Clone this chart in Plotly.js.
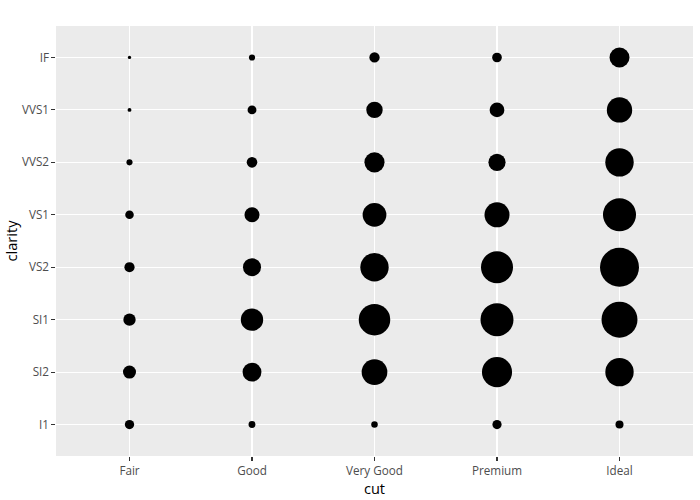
<!DOCTYPE html>
<html>
<head>
<meta charset="utf-8">
<script src="https://cdn.plot.ly/plotly-3.0.1.min.js"></script>
<style>html,body{margin:0;padding:0;background:#fff;}#chart{width:700px;height:500px;}</style>
</head>
<body>
<div id="chart"></div>
<script>
const cuts = ["Fair", "Good", "Very Good", "Premium", "Ideal"];
const clarities = ["I1", "SI2", "SI1", "VS2", "VS1", "VVS2", "VVS1", "IF"];
// counts per cut (rows) in clarity order above
const countFair     = [210, 466, 408, 261, 170, 69, 17, 9];
const countGood     = [96, 1081, 1560, 978, 648, 286, 186, 71];
const countVeryGood = [84, 2100, 3240, 2591, 1775, 1235, 789, 268];
const countPremium  = [205, 2949, 3575, 3357, 1989, 870, 616, 230];
const countIdeal    = [146, 2598, 4282, 5071, 3589, 2606, 2047, 1212];

const table = [countFair, countGood, countVeryGood, countPremium, countIdeal];
const xs = [], ys = [], ns = [];
table.forEach((row, i) => row.forEach((n, j) => { xs.push(cuts[i]); ys.push(clarities[j]); ns.push(n); }));
const sizeOf = n => 1.73 + 0.523 * Math.sqrt(n);

const trace = {
  type: "scatter", mode: "markers",
  x: xs, y: ys,
  text: ns.map(String),
  marker: { color: "rgba(0,0,0,1)", size: ns.map(sizeOf), sizemode: "diameter", opacity: 1, line: { width: 0 } },
  showlegend: false, hoverinfo: "x+y+text"
};

const axisCommon = {
  type: "category",
  showgrid: true, gridcolor: "rgba(255,255,255,1)", gridwidth: 1.06,
  zeroline: false, showline: false,
  ticks: "outside", ticklen: 3.65, tickwidth: 1.06, tickcolor: "rgba(51,51,51,1)",
  tickfont: { family: "Open Sans", size: 11.7, color: "rgba(77,77,77,1)" },
  automargin: false
};

const layout = {
  width: 700, height: 500,
  margin: { l: 56, r: 7, t: 26, b: 44 },
  paper_bgcolor: "rgba(255,255,255,1)",
  plot_bgcolor: "rgba(235,235,235,1)",
  font: { family: "Open Sans", color: "rgba(0,0,0,1)" },
  xaxis: Object.assign({}, axisCommon, {
    categoryorder: "array", categoryarray: cuts, range: [-0.6, 4.6],
    title: { text: "cut", font: { family: "Open Sans", size: 14.6, color: "rgba(0,0,0,1)" }, standoff: 5 }
  }),
  yaxis: Object.assign({}, axisCommon, {
    categoryorder: "array", categoryarray: clarities, range: [-0.6, 7.6],
    title: { text: "clarity", font: { family: "Open Sans", size: 14.6, color: "rgba(0,0,0,1)" } }
  }),
  showlegend: false
};

Plotly.newPlot("chart", [trace], layout, { displayModeBar: false, staticPlot: true });
</script>
</body>
</html>
